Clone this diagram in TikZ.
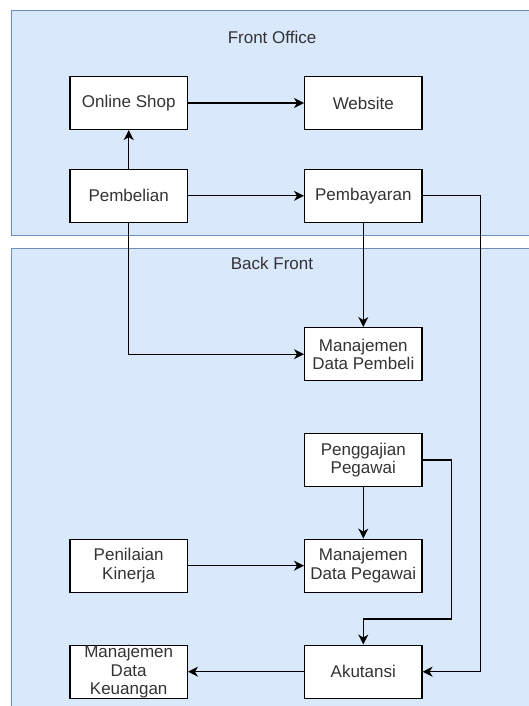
\documentclass[tikz,border=0pt]{standalone}
\usepackage{fontspec}
\setmainfont{Liberation Sans}
\usetikzlibrary{arrows.meta}
\definecolor{panelfill}{HTML}{DAE8FC}
\definecolor{panelline}{HTML}{6C8EBF}
\definecolor{txt}{HTML}{333333}
\begin{document}
\begin{tikzpicture}[x=1pt,y=-1pt,
  panel/.style={draw=panelline, fill=panelfill, line width=1pt},
  box/.style={draw=black, fill=white, line width=1.3pt, minimum width=117.3pt, minimum height=53pt,
    inner sep=0pt, align=center, text=txt, font=\fontsize{17}{18.4}\selectfont},
  title/.style={text=txt, font=\fontsize{17}{18.4}\selectfont, inner sep=0pt},
  arr/.style={draw=black, line width=1.2pt, -{Stealth[length=10pt,width=10pt,inset=3pt]}}]
\useasboundingbox (0,0) rectangle (528,706);
% panels
\path[panel] (11.7,10.3) rectangle (533,235.8);
\path[panel] (11.7,248.5) rectangle (533,712);
\node[title] (fo) at (272,37) {Front Office};
\node[title] (bf) at (272,263) {Back Front};
% boxes
\node[box] (online) at (128.7,103) {Online Shop};
\node[box] (website) at (363.3,103) {Website};
\node[box] (pembelian) at (128.7,195.8) {Pembelian};
\node[box] (pembayaran) at (363.3,195.8) {Pembayaran};
\node[box] (mdpembeli) at (363.3,354.2) {Manajemen\\Data Pembeli};
\node[box] (penggajian) at (363.3,460) {Penggajian\\Pegawai};
\node[box] (penilaian) at (128.7,565.7) {Penilaian\\Kinerja};
\node[box] (mdpegawai) at (363.3,565.7) {Manajemen\\Data Pegawai};
\node[box] (keuangan) at (128.7,671.7) {Manajemen\\Data\\Keuangan};
\node[box] (akutansi) at (363.3,671.7) {Akutansi};
% helper coordinates
\coordinate (rt) at (480.3,671.7);
\coordinate (pg) at (451.7,619);
% connectors
\draw[arr] (pembelian) -- (online);
\draw[arr] (online) -- (website);
\draw[arr] (pembelian) -- (pembayaran);
\draw[arr] (pembayaran) -- (mdpembeli);
\draw[arr] (pembelian.south) |- (mdpembeli.west);
\draw[arr] (pembayaran.east) -| (rt) -- (akutansi.east);
\draw[arr] (penggajian.east) -| (pg) -| (akutansi.north);
\draw[arr] (penggajian) -- (mdpegawai);
\draw[arr] (penilaian) -- (mdpegawai);
\draw[arr] (akutansi) -- (keuangan);
\end{tikzpicture}
\end{document}
